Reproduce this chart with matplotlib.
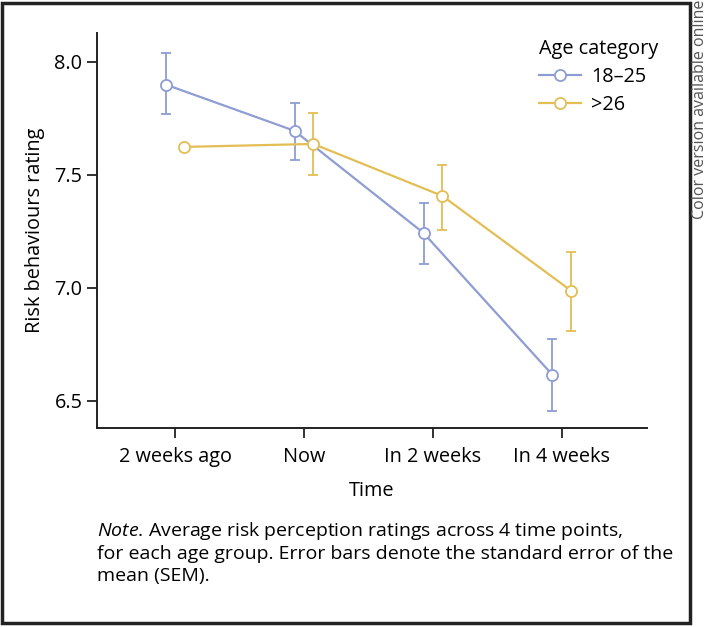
import numpy as np
import matplotlib
matplotlib.use("Agg")
import matplotlib.pyplot as plt
from matplotlib.patches import Rectangle
from matplotlib.lines import Line2D

plt.rcParams["font.family"] = ["Open Sans", "DejaVu Sans"]
plt.rcParams["mathtext.fontset"] = "custom"
plt.rcParams["mathtext.rm"] = "Open Sans"
plt.rcParams["mathtext.it"] = "Open Sans:italic"

time_points = ["2 weeks ago", "Now", "In 2 weeks", "In 4 weeks"]
young_mean = [7.90, 7.695, 7.243, 6.615]
young_lo = [7.77, 7.566, 7.106, 6.456]
young_hi = [8.04, 7.82, 7.376, 6.774]
old_mean = [7.624, 7.637, 7.407, 6.987]
old_lo = [7.624, 7.50, 7.257, 6.81]
old_hi = [7.624, 7.774, 7.544, 7.159]

BLUE = "#8E9DD2"
GOLD = "#E3BE55"

fig = plt.figure(figsize=(7.09, 6.27), dpi=100)
ax = fig.add_axes([97 / 709, 1 - 428 / 627, 550 / 709, 395 / 627])

x = np.arange(len(time_points))
dodge = 0.073
handles = []
for means, lo, hi, col, lab, off in [
    (young_mean, young_lo, young_hi, BLUE, "18\u201325", -dodge),
    (old_mean, old_lo, old_hi, GOLD, ">26", dodge),
]:
    m = np.array(means)
    yerr = [m - np.array(lo), np.array(hi) - m]
    ax.errorbar(x + off, m, yerr=yerr, color=col, lw=1.6, capsize=3.5, capthick=1.3,
                elinewidth=1.3, marker="o", ms=8, mfc="white", mec=col, mew=1.3)
    handles.append(Line2D([], [], color=col, lw=1.6, marker="o", ms=8, mfc="white",
                          mec=col, mew=1.3, label=lab))

ax.set_xlim(-0.605, 3.66)
ax.set_ylim(6.38, 8.128)
ax.set_xticks(x)
ax.set_xticklabels(time_points)
ax.set_yticks([6.5, 7.0, 7.5, 8.0])
ax.set_yticklabels(["6.5", "7.0", "7.5", "8.0"])
for s in ["top", "right"]:
    ax.spines[s].set_visible(False)
for s in ["left", "bottom"]:
    ax.spines[s].set_linewidth(1.4)
    ax.spines[s].set_color("#222222")
ax.tick_params(labelsize=14.3, length=7, width=1.3, color="#222222")
ax.tick_params(axis="x", pad=7)
ax.set_xlabel("Time", fontsize=14.3, labelpad=10)
ax.set_ylabel("Risk behaviours rating", fontsize=14.3, labelpad=7)

leg = ax.legend(handles=handles, title="Age category", loc="upper left",
                bbox_to_anchor=(0.79, 1.005), frameon=False, fontsize=14.3, title_fontsize=14.3,
                handlelength=2.1, handletextpad=0.5, borderaxespad=0, labelspacing=0.4)
leg._legend_box.align = "left"

fig.text(97 / 709, 1 - 552 / 627,
         r"$\it{Note}$" + ". Average risk perception ratings across 4 time points,\n"
         "for each age group. Error bars denote the standard error of the\n"
         "mean (SEM).", fontsize=14, va="center", ha="left", linespacing=1.25)

fig.patches.append(Rectangle((2 / 709, 4 / 627), 688 / 709, 620 / 627, transform=fig.transFigure,
                             fill=False, ec="#222222", lw=2.5))
fig.text(700 / 709, 1.0, "Color version available online", rotation=90, ha="center", va="top",
         fontsize=11.5, color="#555555")

fig.savefig("out.png", dpi=100)
